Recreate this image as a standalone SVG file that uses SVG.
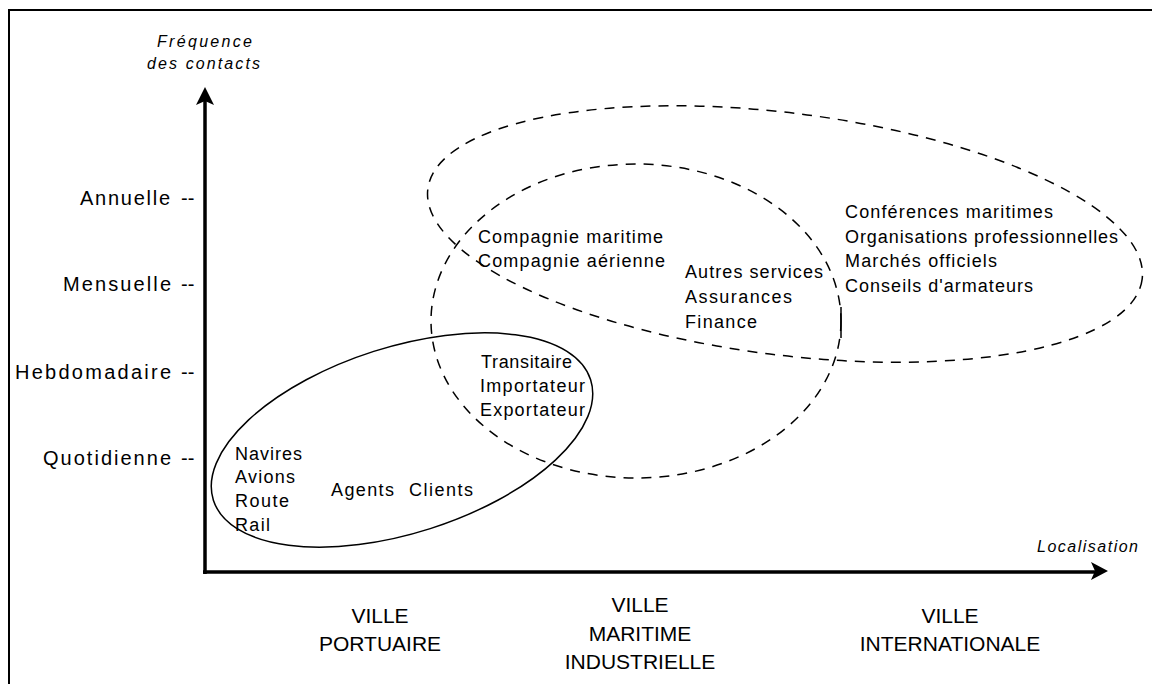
<svg xmlns="http://www.w3.org/2000/svg" width="1152" height="684" viewBox="0 0 1152 684">
<style>
text{font-family:"Liberation Sans",Arial,sans-serif;fill:#000;}
.lbl{font-size:18px;}
.ax{font-size:20px;}
.it{font-size:16px;font-style:italic;}
.big{font-size:21px;}
.solid{fill:none;stroke:#000;stroke-width:1.5;}
.dash{fill:none;stroke:#000;stroke-width:1.5;stroke-dasharray:10 8;}
.axis{fill:none;stroke:#000;stroke-width:3.5;}
</style>
<rect x="0" y="0" width="1152" height="684" fill="#fff"/>
<path d="M9 684 V10 H1152" fill="none" stroke="#000" stroke-width="2"/>

<g id="connectors">
  <line class="axis" x1="205" y1="574" x2="205" y2="98"/>
  <path d="M205 87 L214 105 L205 101 L196 105 Z" fill="#000"/>
  <line class="axis" x1="203" y1="572" x2="1096" y2="572"/>
  <path d="M1108 571 L1091 562 L1095 571 L1091 580 Z" fill="#000"/>
</g>

<g id="axis-labels">
  <text class="it" x="157" y="47" textLength="95" lengthAdjust="spacing">Fréquence</text>
  <text class="it" x="147" y="69" textLength="113" lengthAdjust="spacing">des contacts</text>
  <text class="ax" x="80" y="205" textLength="90" lengthAdjust="spacing">Annuelle</text>
  <text class="ax" x="181" y="205">--</text>
  <text class="ax" x="63" y="291" textLength="108" lengthAdjust="spacing">Mensuelle</text>
  <text class="ax" x="181" y="291">--</text>
  <text class="ax" x="15" y="379" textLength="156" lengthAdjust="spacing">Hebdomadaire</text>
  <text class="ax" x="181" y="379">--</text>
  <text class="ax" x="43" y="465" textLength="128" lengthAdjust="spacing">Quotidienne</text>
  <text class="ax" x="181" y="465">--</text>
  <text class="it" x="1037" y="552" textLength="101" lengthAdjust="spacing">Localisation</text>
</g>

<g id="ville-portuaire">
  <ellipse class="solid" cx="402" cy="440" rx="198" ry="93" transform="rotate(-17.7 402 440)"/>
  <text class="lbl" x="235" y="460" textLength="67" lengthAdjust="spacing">Navires</text>
  <text class="lbl" x="235" y="483" textLength="60" lengthAdjust="spacing">Avions</text>
  <text class="lbl" x="235" y="507" textLength="54" lengthAdjust="spacing">Route</text>
  <text class="lbl" x="235" y="531" textLength="35" lengthAdjust="spacing">Rail</text>
  <text class="lbl" x="331" y="496" textLength="63" lengthAdjust="spacing">Agents</text>
  <text class="lbl" x="409" y="496" textLength="64" lengthAdjust="spacing">Clients</text>
</g>

<g id="ville-maritime">
  <ellipse class="dash" cx="636" cy="321" rx="205" ry="157"/>
  <text class="lbl" x="481" y="368" textLength="91" lengthAdjust="spacing">Transitaire</text>
  <text class="lbl" x="480" y="392" textLength="105" lengthAdjust="spacing">Importateur</text>
  <text class="lbl" x="480" y="416" textLength="105" lengthAdjust="spacing">Exportateur</text>
  <text class="lbl" x="478" y="243" textLength="185" lengthAdjust="spacing">Compagnie maritime</text>
  <text class="lbl" x="478" y="267" textLength="187" lengthAdjust="spacing">Compagnie aérienne</text>
  <text class="lbl" x="685" y="278" textLength="138" lengthAdjust="spacing">Autres services</text>
  <text class="lbl" x="685" y="303" textLength="107" lengthAdjust="spacing">Assurances</text>
  <text class="lbl" x="685" y="328" textLength="72" lengthAdjust="spacing">Finance</text>
</g>

<g id="ville-internationale">
  <ellipse class="dash" cx="785" cy="234" rx="360" ry="121" transform="rotate(7.2 785 234)"/>
  <line x1="841" y1="307" x2="841" y2="338" stroke="#000" stroke-width="1.5"/>
  <text class="lbl" x="845" y="218" textLength="208" lengthAdjust="spacing">Conférences maritimes</text>
  <text class="lbl" x="845" y="243" textLength="273" lengthAdjust="spacing">Organisations professionnelles</text>
  <text class="lbl" x="845" y="267" textLength="152" lengthAdjust="spacing">Marchés officiels</text>
  <text class="lbl" x="845" y="292" textLength="188" lengthAdjust="spacing">Conseils d'armateurs</text>
</g>

<g id="localisation-labels">
  <text class="big" x="380" y="623" text-anchor="middle">VILLE</text>
  <text class="big" x="380" y="651" text-anchor="middle">PORTUAIRE</text>
  <text class="big" x="640" y="612" text-anchor="middle">VILLE</text>
  <text class="big" x="640" y="641" text-anchor="middle">MARITIME</text>
  <text class="big" x="640" y="669" text-anchor="middle">INDUSTRIELLE</text>
  <text class="big" x="950" y="623" text-anchor="middle">VILLE</text>
  <text class="big" x="950" y="651" text-anchor="middle">INTERNATIONALE</text>
</g>
</svg>
